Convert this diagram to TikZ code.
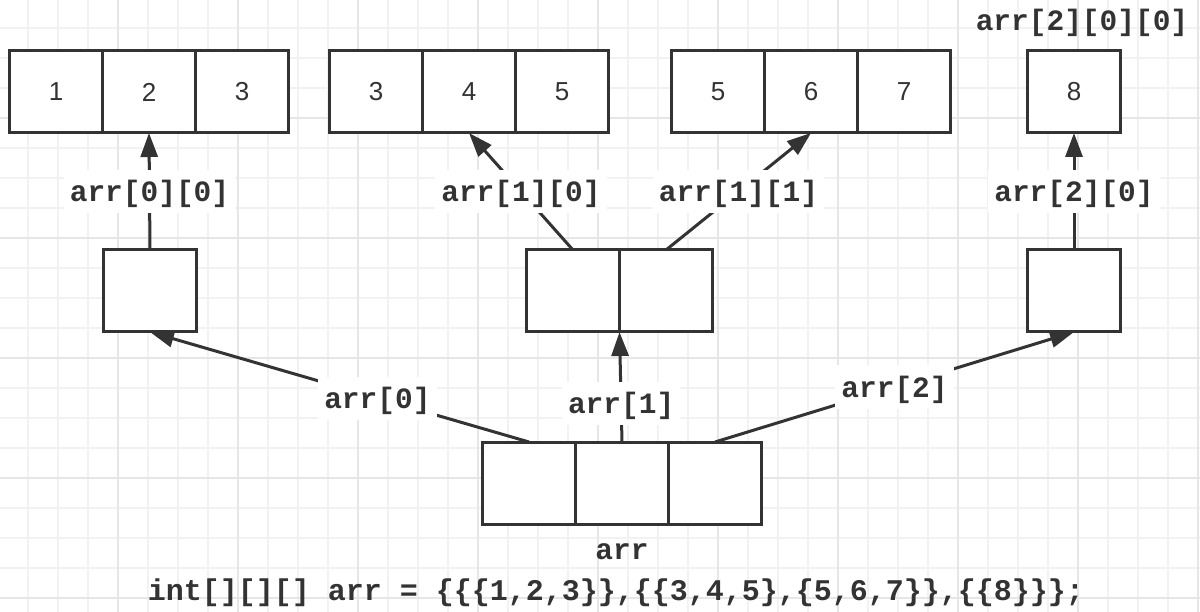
\documentclass[tikz,border=0pt]{standalone}
\usepackage{fontspec}
\setmainfont{Liberation Sans}
\newfontfamily\codefont{Liberation Mono}
\usepackage{tikz}
\usetikzlibrary{positioning, arrows.meta}
\definecolor{ink}{HTML}{333333}
\definecolor{gridminor}{HTML}{F2F2F2}
\definecolor{gridmajor}{HTML}{E6E6E6}
\tikzset{
		cell/.style={draw=ink, line width=3pt, fill=white, minimum width=93pt, minimum height=82pt,
			inner sep=0pt, outer sep=0pt, text=ink, font=\fontsize{26}{30}\selectfont},
		tag/.style={text=ink, inner xsep=6pt, inner ysep=8pt, text height=24pt, text depth=3pt,
			font=\codefont\bfseries\fontsize{29.5}{34}\selectfont},
		boxed tag/.style={tag, fill=white},
		pointer/.style={draw=ink, line width=3pt, -{Triangle[length=24pt, width=17pt]}},
		minor line/.style={draw=gridminor, line width=2pt},
		major line/.style={draw=gridmajor, line width=2pt}
	}
\begin{document}
\begin{tikzpicture}[x=1pt, y=-1pt, node distance=0pt]
	\fill[white] (0,0) rectangle (1200,612);
	\useasboundingbox (0,0) rectangle (1200,612);
	% grid
	\foreach \g in {28,58,...,1198} \draw[minor line] (\g,0) -- (\g,612);
	\foreach \g in {28,58,...,598} \draw[minor line] (0,\g) -- (1200,\g);
	\foreach \g in {118,238,...,1198} \draw[major line] (\g,0) -- (\g,612);
	\foreach \g in {118,238,...,598} \draw[major line] (0,\g) -- (1200,\g);
	% innermost arrays
	\node[cell]                (a1) at (56,92)   {1};
	\node[cell, right=of a1]   (a2)              {2};
	\node[cell, right=of a2]   (a3)              {3};
	\node[cell]                (b1) at (376,92)  {3};
	\node[cell, right=of b1]   (b2)              {4};
	\node[cell, right=of b2]   (b3)              {5};
	\node[cell]                (c1) at (718,92)  {5};
	\node[cell, right=of c1]   (c2)              {6};
	\node[cell, right=of c2]   (c3)              {7};
	\node[cell]                (d1) at (1074,92) {8};
	\node[tag, above=9pt of d1, xshift=8pt] (d1name) {arr[2][0][0]};
	% second level
	\node[cell]                (m0) at (150,291)   {};
	\node[cell]                (m1a) at (573,291)  {};
	\node[cell, right=of m1a]  (m1b)               {};
	\node[cell]                (m2) at (1074,291)  {};
	% top level
	\node[cell]                (r0) at (529,483) {};
	\node[cell, right=of r0]   (r1)              {};
	\node[cell, right=of r1]   (r2)              {};
	\node[tag, below=3pt of r1] (rname) {arr};
	\node[tag, below=-2pt of rname, xshift=-6pt, font=\codefont\bfseries\fontsize{30}{34}\selectfont] (decl)
		{int[][][] arr = \{\{\{1,2,3\}\},\{\{3,4,5\},\{5,6,7\}\},\{\{8\}\}\};};
	% pointers
	\draw[pointer] (m0.north)  -- node[boxed tag] {arr[0][0]} (a2.south);
	\draw[pointer] (m1a.north) -- node[boxed tag] {arr[1][0]} (b2.south);
	\draw[pointer] (m1b.north) -- node[boxed tag] {arr[1][1]} (c2.south);
	\draw[pointer] (m2.north)  -- node[boxed tag] {arr[2][0]} (d1.south);
	\draw[pointer] (r0.north)  -- node[boxed tag, pos=0.4] {arr[0]} (m0.south);
	\draw[pointer] (r1.north)  -- node[boxed tag, pos=0.35] {arr[1]} (m1a.south east);
	\draw[pointer] (r2.north)  -- node[boxed tag] {arr[2]} (m2.south);
\end{tikzpicture}
\end{document}
